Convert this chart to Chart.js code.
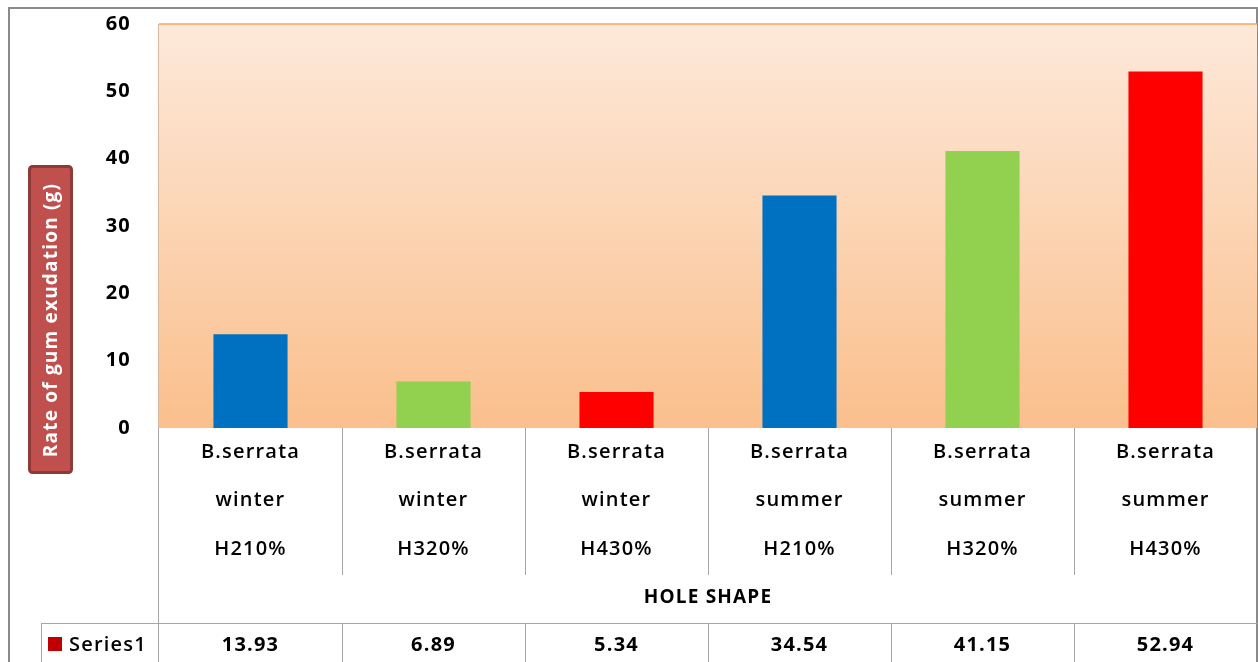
<!DOCTYPE html>
<html><head><meta charset="utf-8">
<script src="https://cdn.jsdelivr.net/npm/chart.js@4/dist/chart.umd.min.js"></script>
<style>html,body{margin:0;padding:0;background:#fff;overflow:hidden}</style>
</head><body>
<canvas id="c" width="1258" height="662" style="width:1258px;height:662px;display:block"></canvas>
<script>
const categories = [
  ["B.serrata","winter","H210%"],
  ["B.serrata","winter","H320%"],
  ["B.serrata","winter","H430%"],
  ["B.serrata","summer","H210%"],
  ["B.serrata","summer","H320%"],
  ["B.serrata","summer","H430%"]
];
const values = [13.93, 6.89, 5.34, 34.54, 41.15, 52.94];
const valueLabels = ["13.93","6.89","5.34","34.54","41.15","52.94"];
const barColors = ["#0070C0","#92D050","#FF0000","#0070C0","#92D050","#FF0000"];
const yMin = 0, yMax = 60, yStep = 10;
const seriesName = "Series1";
const xTitle = "HOLE SHAPE";
const yTitle = "Rate of gum exudation (g)";

const FONT = "'Open Sans', Lato, sans-serif";
const LINE = "#a6a6a6";
const SPACING = '1.2px';

const decor = {
  id: 'decor',
  beforeLayout(chart) { chart.ctx.letterSpacing = SPACING; },
  beforeDraw(chart) {
    const {ctx, chartArea: a} = chart;
    ctx.letterSpacing = SPACING;
    ctx.save();
    ctx.fillStyle = '#fff';
    ctx.fillRect(0, 0, chart.width, chart.height);
    // outer border
    ctx.strokeStyle = '#8a8a8a';
    ctx.lineWidth = 2;
    ctx.beginPath();
    ctx.moveTo(9, 662); ctx.lineTo(9, 8); ctx.lineTo(1257, 8); ctx.lineTo(1257, 662);
    ctx.stroke();
    // plot background
    const g = ctx.createLinearGradient(0, a.top, 0, a.bottom);
    g.addColorStop(0, '#fde9da');
    g.addColorStop(1, '#fabf8c');
    ctx.fillStyle = g;
    ctx.fillRect(a.left, a.top, a.right - a.left, a.bottom - a.top);
    ctx.strokeStyle = '#f7a35c';
    ctx.lineWidth = 1.5;
    ctx.beginPath(); ctx.moveTo(a.left, a.top); ctx.lineTo(a.right, a.top); ctx.stroke();
    ctx.strokeStyle = '#d9b8a0';
    ctx.lineWidth = 1;
    ctx.beginPath(); ctx.moveTo(a.left - 0.5, a.top); ctx.lineTo(a.left - 0.5, a.bottom); ctx.stroke();
    // y title box
    ctx.fillStyle = '#c0504d';
    ctx.strokeStyle = '#8e3a38';
    ctx.lineWidth = 3;
    ctx.beginPath();
    ctx.roundRect(29.5, 166.5, 42, 306, 3);
    ctx.fill(); ctx.stroke();
    ctx.translate(51, 320);
    ctx.rotate(-Math.PI / 2);
    ctx.fillStyle = '#fff';
    ctx.font = "bold 19px " + FONT;
    ctx.textAlign = 'center';
    ctx.textBaseline = 'middle';
    ctx.fillText(yTitle, 0, 1);
    ctx.restore();
  },
  afterDraw(chart) {
    const {ctx, chartArea: a} = chart;
    const x = chart.scales.x;
    const half = (x.getPixelForValue(1) - x.getPixelForValue(0)) / 2;
    ctx.save();
    ctx.strokeStyle = LINE;
    ctx.lineWidth = 1;
    ctx.beginPath();
    ctx.moveTo(a.left - 0.5, a.bottom); ctx.lineTo(a.left - 0.5, 662);
    for (let i = 1; i < categories.length; i++) {
      const px = Math.round(x.getPixelForValue(i) - half) + 0.5;
      ctx.moveTo(px, a.bottom); ctx.lineTo(px, 575);
      ctx.moveTo(px, 623); ctx.lineTo(px, 662);
    }
    ctx.moveTo(41, 623.5); ctx.lineTo(a.right, 623.5);
    ctx.moveTo(41.5, 623); ctx.lineTo(41.5, 662);
    ctx.stroke();
    ctx.fillStyle = '#c00000';
    ctx.fillRect(48, 637, 14, 14);
    ctx.fillStyle = '#000';
    ctx.font = "600 20px " + FONT;
    ctx.textAlign = 'left';
    ctx.textBaseline = 'middle';
    ctx.fillText(seriesName, 69, 645);
    ctx.font = "bold 20px " + FONT;
    ctx.textAlign = 'center';
    valueLabels.forEach((t, i) => ctx.fillText(t, x.getPixelForValue(i), 645));
    ctx.restore();
  }
};

new Chart(document.getElementById('c'), {
  type: 'bar',
  data: {
    labels: categories,
    datasets: [{
      label: seriesName,
      data: values,
      backgroundColor: barColors,
      borderWidth: 0,
      barPercentage: 0.405,
      categoryPercentage: 1
    }]
  },
  options: {
    responsive: false,
    animation: false,
    devicePixelRatio: 1,
    layout: { padding: { top: 24, right: 1, bottom: 39, left: 0 } },
    plugins: { legend: { display: false }, tooltip: { enabled: false } },
    scales: {
      x: {
        grid: { display: false, drawTicks: false },
        border: { display: false },
        ticks: {
          color: '#000', padding: 0, maxRotation: 0, autoSkip: false,
          font: { family: FONT, size: 20, weight: 600, lineHeight: '48.5px' }
        },
        title: {
          display: true, text: xTitle, color: '#000',
          font: { family: FONT, size: 19, weight: 'bold', lineHeight: 1.2 },
          padding: { top: 4, bottom: 14 }
        },
        afterFit(s) { s.height = 195; }
      },
      y: {
        min: yMin, max: yMax,
        grid: { display: false, drawTicks: false },
        border: { display: false },
        ticks: {
          stepSize: yStep, color: '#000', padding: 28,
          font: { family: FONT, size: 20, weight: 'bold' }
        },
        afterFit(s) { s.width = 159; s.paddingTop = 0; s.paddingBottom = 0; }
      }
    }
  },
  plugins: [decor]
});
</script>
</body></html>
